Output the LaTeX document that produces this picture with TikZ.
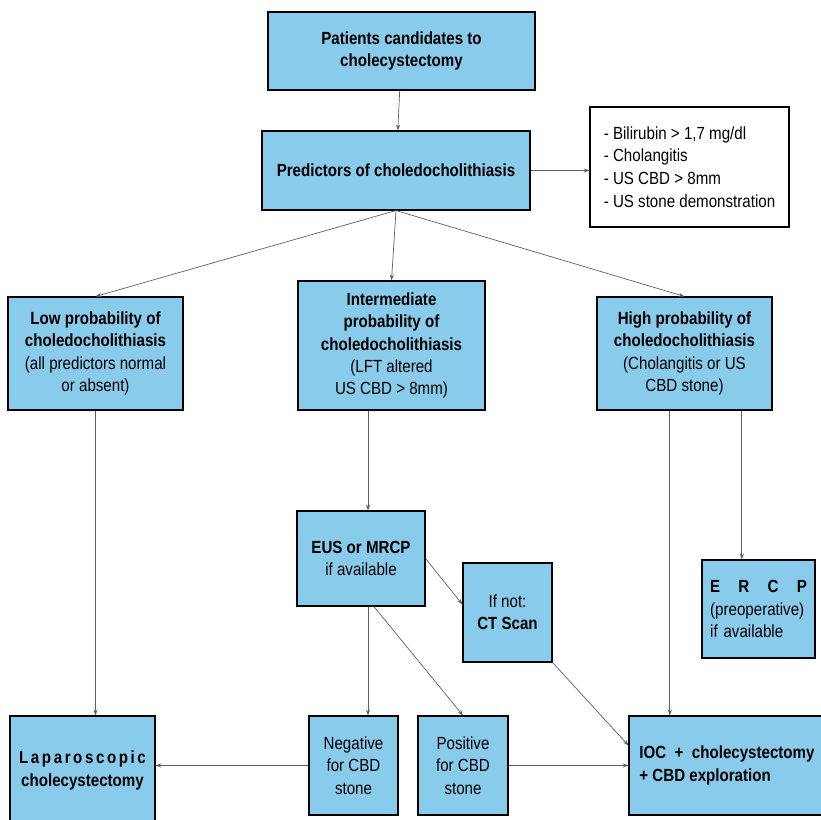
\documentclass[tikz,border=0pt]{standalone}
\usepackage{fontspec}
\setmainfont{Liberation Sans}[FakeStretch=0.86]
\usetikzlibrary{positioning,calc,arrows.meta}
\definecolor{boxblue}{RGB}{137,203,235}
\definecolor{linegray}{RGB}{95,95,95}

\begin{document}
\begin{tikzpicture}[
		box/.style={draw=black, line width=0.9pt, fill=boxblue, align=center, inner sep=2pt, font=\fontsize{15}{19}\selectfont},
		note/.style={draw=black, line width=0.9pt, fill=white, align=left, inner sep=2pt, font=\fontsize{15}{19.5}\selectfont},
		link/.style={-{Stealth[length=5pt,width=3.5pt]}, draw=linegray, line width=0.6pt}]
		\useasboundingbox (0,0) rectangle (24.63,24.57);
		\clip (0,0) rectangle (24.63,24.57);
		% Top of the flow chart
		\node[box, minimum width=8.01cm, minimum height=2.34cm] (patients) at (12.045,23.04) {\textbf{Patients candidates to}\\\textbf{cholecystectomy}};
		\node[box, minimum width=8.04cm, minimum height=2.37cm] (predictors) at (11.88,19.455) {\textbf{Predictors of choledocholithiasis}};
		\node[note, minimum width=5.97cm, minimum height=3.6cm] (criteria) at (20.685,19.56) {- Bilirubin > 1,7 mg/dl\\- Cholangitis\\- US CBD > 8mm\\- US stone demonstration};
		
		% Probability groups
		\node[box, minimum width=5.25cm, minimum height=3.39cm] (low) at (2.865,13.965) {\textbf{Low probability of}\\\textbf{choledocholithiasis}\\(all predictors normal\\or absent)};
		\node[box, minimum width=5.61cm, minimum height=3.87cm] (inter) at (11.745,14.205) {\textbf{Intermediate}\\\textbf{probability of}\\\textbf{choledocholithiasis}\\(LFT altered\\US CBD > 8mm)};
		\node[box, minimum width=5.25cm, minimum height=3.39cm] (high) at (20.535,13.965) {\textbf{High probability of}\\\textbf{choledocholithiasis}\\(Cholangitis or US\\CBD stone)};
		
		% Imaging
		\node[box, minimum width=3.84cm, minimum height=2.85cm] (eus) at (10.83,7.815) {\textbf{EUS or MRCP}\\if available};
		\node[box, minimum width=2.67cm, minimum height=2.97cm] (ctscan) at (15.225,6.195) {If not:\\\textbf{CT Scan}};
		\node[box, align=left, text width=2.9cm, minimum width=3.39cm, minimum height=2.94cm] (ercp) at (22.755,6.3) {\textbf{E\hfill R\hfill C\hfill P}\\(preoperative)\\if available};
		
		% Bottom row
		\node[box, text width=3.8cm, minimum width=4.35cm, minimum height=3.27cm] (lap) at (2.475,1.455) {\textbf{L\hfill a\hfill p\hfill a\hfill r\hfill o\hfill s\hfill c\hfill o\hfill p\hfill i\hfill c}\\\textbf{cholecystectomy}};
		\node[box, minimum width=2.67cm, minimum height=2.97cm] (neg) at (10.605,1.605) {Negative\\for CBD\\stone};
		\node[box, minimum width=2.7cm, minimum height=2.97cm] (pos) at (13.89,1.605) {Positive\\for CBD\\stone};
		\node[box, align=left, minimum width=5.88cm, minimum height=2.97cm] (ioc) at (21.81,1.605) {\textbf{IOC\ \ +\ \ cholecystectomy}\\\textbf{+ CBD exploration}};
		
		\coordinate (e1) at ($(eus.north)+(0.21,0)$);
		\coordinate (e2) at ($(eus.south)+(0.21,0)$);
		\coordinate (h1) at ($(high.south)+(-0.44,0)$);
		\coordinate (h2) at ($(high.south)+(1.72,0)$);
		
		\draw[link] (patients) -- (predictors);
		\draw[link] (predictors.east) -- (predictors.east -| criteria.west);
		\draw[link] (predictors.south) -- (low.north);
		\draw[link] (predictors.south) -- (inter.north);
		\draw[link] (predictors.south) -- (high.north);
		\draw[link] (low.south) -- (low.south |- lap.north);
		\draw[link] (e1 |- inter.south) -- (e1);
		\draw[link] (eus.east) -- (ctscan.170);
		\draw[link] (e2) -- (e2 |- neg.north);
		\draw[link] (eus.285) -- (pos.north);
		\draw[link] (ctscan.south east) -- ($(ioc.north west)!0.3!(ioc.south west)$);
		\draw[link] (h1) -- (h1 |- ioc.north);
		\draw[link] (h2) -- (h2 |- ercp.north);
		\draw[link] (neg.west) -- (neg.west -| lap.east);
		\draw[link] (pos.east) -- (pos.east -| ioc.west);
	\end{tikzpicture}
\end{document}
